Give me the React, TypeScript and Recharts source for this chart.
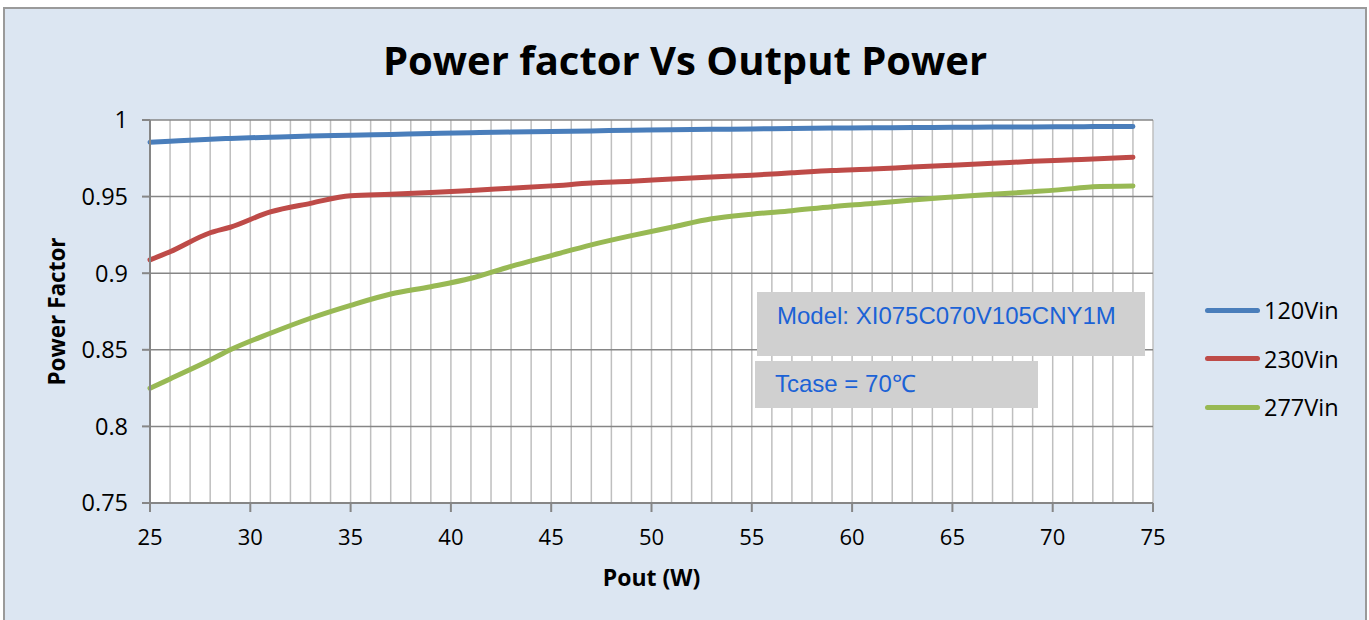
import { CartesianGrid, Label, Legend, Line, LineChart, XAxis, YAxis } from 'recharts';

// output power (W) where the curves were sampled
const pout = [25, 26, 28, 29, 31, 33, 35, 37, 39, 41, 43, 45, 47, 49, 51, 53, 55, 57, 59, 61, 63, 65, 67, 69, 71, 72, 74];

const pf120 = [0.9855, 0.9862, 0.9875, 0.988, 0.9888, 0.9895, 0.99, 0.9906, 0.9912, 0.9917, 0.9921, 0.9925, 0.9929, 0.9933, 0.9936, 0.9939, 0.9942, 0.9944, 0.9947, 0.9949, 0.9951, 0.9952, 0.9954, 0.9955, 0.9956, 0.9957, 0.9958];
const pf230 = [0.9087, 0.914, 0.9264, 0.93, 0.94, 0.9456, 0.9506, 0.9515, 0.9526, 0.954, 0.9555, 0.957, 0.9588, 0.96, 0.9615, 0.9628, 0.964, 0.9655, 0.967, 0.968, 0.9693, 0.9705, 0.9717, 0.973, 0.974, 0.9745, 0.9757];
const pf277 = [0.8249, 0.831, 0.8433, 0.85, 0.8608, 0.8706, 0.879, 0.8864, 0.8912, 0.8967, 0.9045, 0.9115, 0.9185, 0.9245, 0.93, 0.9355, 0.9385, 0.9408, 0.9434, 0.9455, 0.9478, 0.9497, 0.9515, 0.9532, 0.9552, 0.9565, 0.957];

const xLabels = [25, 30, 35, 40, 45, 50, 55, 60, 65, 70, 75];
const yTicks = [0.75, 0.8, 0.85, 0.9, 0.95, 1];

const series = [
  { key: 'v120', name: '120Vin', color: '#4A7EBB', values: pf120 },
  { key: 'v230', name: '230Vin', color: '#BE4B48', values: pf230 },
  { key: 'v277', name: '277Vin', color: '#98B954', values: pf277 },
];

const data = pout.map((p, i) => ({ pout: p, v120: pf120[i], v230: pf230[i], v277: pf277[i] }));

// one grid line per watt, labels only every 5 W
const gridTicks = Array.from({ length: 51 }, (_, i) => 25 + i);

const font = "'Open Sans', sans-serif";
const axisGray = '#868686';

function XTick(props: any) {
  const { x, y, payload } = props;
  if (!xLabels.includes(payload.value)) return <g />;
  return (
    <g>
      <line x1={x} x2={x} y1={y - 9} y2={y} stroke={axisGray} strokeWidth={2} />
      <text x={x} y={y + 25} dy="0.35em" textAnchor="middle" fill="#000" fontSize={22} fontFamily={font}>
        {payload.value}
      </text>
    </g>
  );
}

function LegendBox(props: any) {
  const { payload } = props;
  return (
    <div style={{ fontFamily: font, fontSize: 23.5, color: '#000' }}>
      {payload.map((entry: any) => (
        <div key={entry.value} style={{ display: 'flex', alignItems: 'center', height: 48.5 }}>
          <span style={{ display: 'inline-block', width: 55, height: 5, borderRadius: 3, background: entry.color, marginRight: 4 }} />
          <span>{entry.value}</span>
        </div>
      ))}
    </div>
  );
}

const boxText = { position: 'absolute' as const, background: '#D0D0D0', color: '#1B62D6', fontFamily: "'Liberation Sans', Arial, sans-serif", fontSize: 24, lineHeight: '24px', boxSizing: 'border-box' as const, paddingLeft: 20, whiteSpace: 'nowrap' as const };

export default function App() {
  return (
    <div style={{ position: 'absolute', left: 3, top: 7, width: 1364, height: 613, boxSizing: 'border-box', border: '2px solid #9A9A9A', borderBottom: 'none', background: '#DCE6F2' }}>
      <div style={{ position: 'absolute', left: 0, right: 0, top: 27, lineHeight: '48px', textAlign: 'center', fontFamily: font, fontWeight: 700, fontSize: 40, color: '#000', zIndex: 2 }}>
        Power factor Vs Output Power
      </div>
      <LineChart width={1360} height={611} data={data} margin={{ top: 111, right: 212, bottom: 77, left: 65 }}>
        <CartesianGrid horizontal={false} stroke="#BFBFBF" strokeWidth={1.5} fill="#FFFFFF" />
        <CartesianGrid vertical={false} stroke={axisGray} strokeWidth={1.5} />
        <XAxis
          dataKey="pout"
          type="number"
          domain={[25, 75]}
          ticks={gridTicks}
          interval={0}
          height={40}
          tickSize={9}
          tickMargin={0}
          tickLine={false}
          tick={<XTick />}
          axisLine={{ stroke: axisGray, strokeWidth: 2 }}
        >
          <Label value="Pout (W)" position="center" dy={55} fill="#000" fontSize={23} fontWeight={700} fontFamily={font} />
        </XAxis>
        <YAxis
          type="number"
          domain={[0.75, 1]}
          ticks={yTicks}
          width={80}
          tickSize={8}
          tickMargin={14}
          tickFormatter={(v: number) => String(v)}
          tick={{ fill: '#000', fontSize: 23.5, fontFamily: font }}
          tickLine={{ stroke: axisGray, strokeWidth: 2 }}
          axisLine={{ stroke: axisGray, strokeWidth: 2 }}
        >
          <Label value="Power Factor" position="center" angle={-90} dx={-53} fill="#000" fontSize={22.5} fontWeight={700} fontFamily={font} />
        </YAxis>
        <Legend
          layout="horizontal"
          align="center"
          verticalAlign="middle"
          content={<LegendBox />}
          wrapperStyle={{ position: 'absolute', left: 1200, top: 277, width: 160 }}
        />
        {series.map(s => (
          <Line
            key={s.key}
            type="monotone"
            dataKey={s.key}
            name={s.name}
            stroke={s.color}
            strokeWidth={5}
            strokeLinecap="round"
            dot={false}
            activeDot={false}
            isAnimationActive={false}
          />
        ))}
      </LineChart>
      <div style={{ ...boxText, left: 752, top: 283, width: 388, height: 64, paddingTop: 12 }}>Model: XI075C070V105CNY1M</div>
      <div style={{ ...boxText, left: 750, top: 352, width: 283, height: 47, paddingTop: 11 }}>Tcase = 70℃</div>
    </div>
  );
}
